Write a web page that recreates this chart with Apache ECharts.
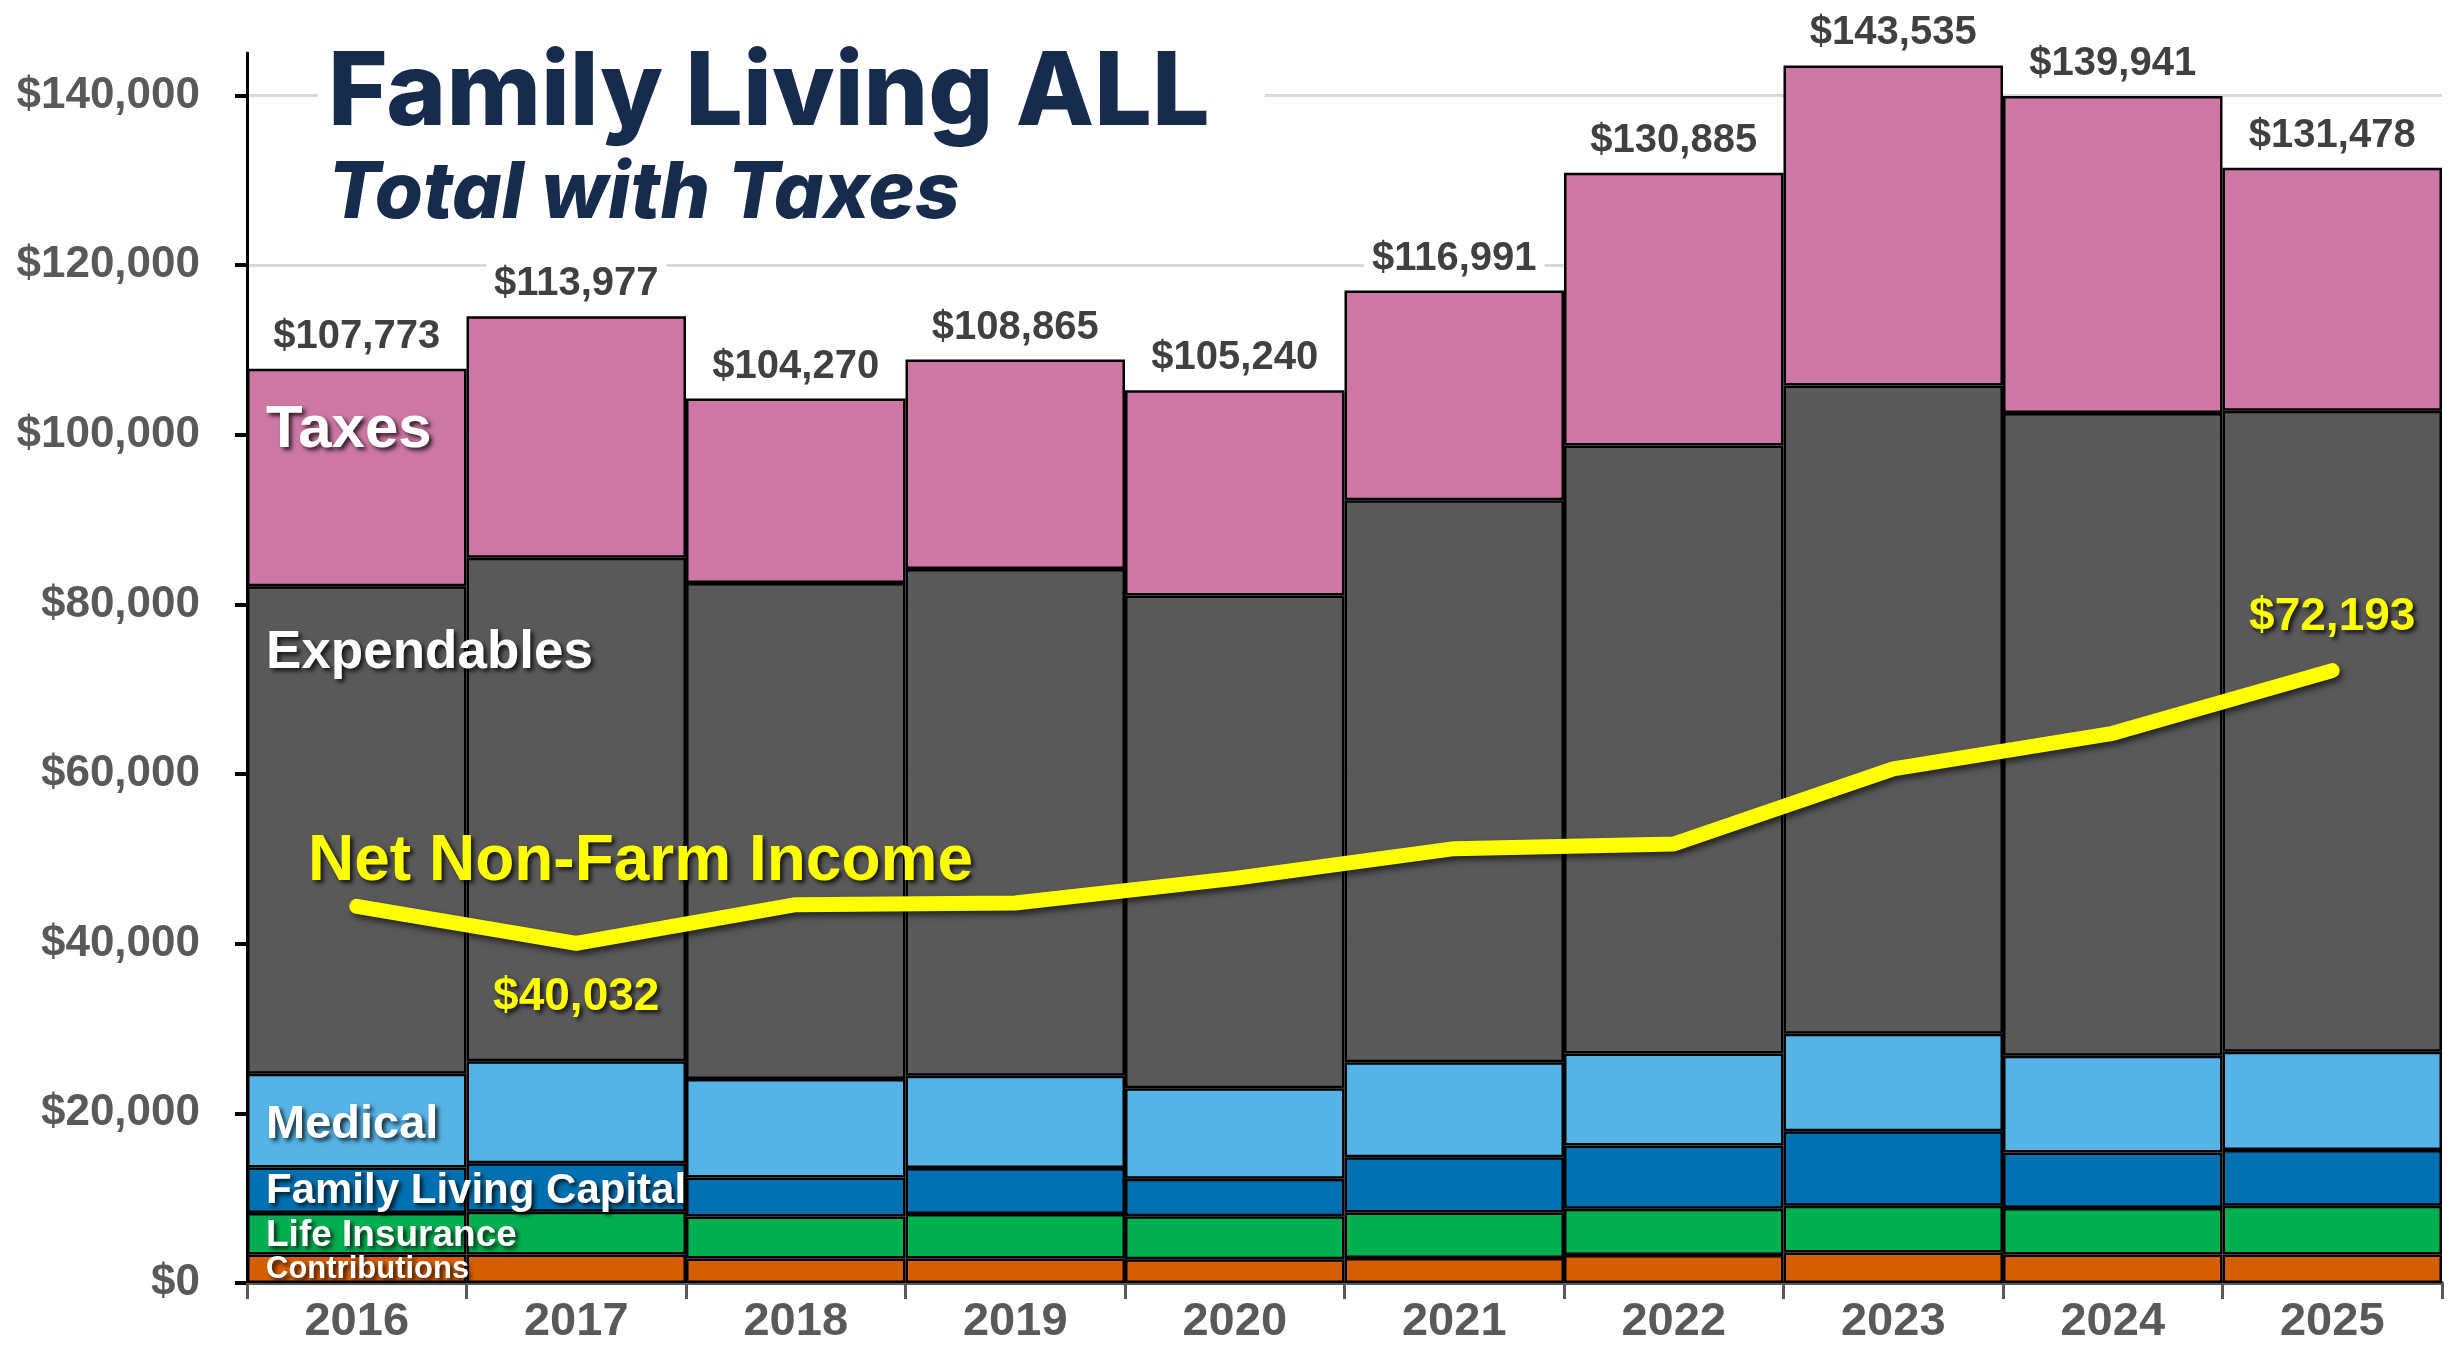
<!DOCTYPE html>
<html>
<head>
<meta charset="utf-8">
<title>Family Living ALL</title>
<script src="https://cdn.jsdelivr.net/npm/echarts@6/dist/echarts.min.js"></script>
<style>
html, body {margin: 0; padding: 0; background: #fff;}
#main {width: 2451px; height: 1351px;}
</style>
</head>
<body>
<div id="main"></div>
<script>
// categories
const years = ['2016', '2017', '2018', '2019', '2020', '2021', '2022', '2023', '2024', '2025'];
// stacked layers, bottom to top ($ per family)
const contributions = [3350, 3350, 2900, 2900, 2800, 2950, 3300, 3600, 3350, 3350];
const lifeInsurance = [4900, 5050, 4950, 5230, 5070, 5350, 5460, 5500, 5500, 5770];
const familyLivingCapital = [5380, 5730, 4600, 5430, 4410, 6510, 7460, 8800, 6520, 6570];
const medical = [11040, 12020, 11600, 10880, 10680, 11200, 10840, 11480, 11430, 11580];
const expendables = [57480, 59340, 58470, 59740, 58100, 66280, 71660, 76410, 75750, 75550];
const totals = [107773, 113977, 104270, 108865, 105240, 116991, 130885, 143535, 139941, 131478];
// taxes = total minus everything below
const taxes = totals.map((t, i) => t - contributions[i] - lifeInsurance[i] - familyLivingCapital[i] - medical[i] - expendables[i]);
// line
const netNonFarmIncome = [44400, 40032, 44600, 44800, 47700, 51200, 51750, 60600, 64800, 72193];
// y axis ticks
const yTicks = [0, 20000, 40000, 60000, 80000, 100000, 120000, 140000];

const numFont = '"Liberation Sans", Arial, sans-serif';

function money(v) {
    return '$' + Math.round(v).toString().replace(/\B(?=(\d{3})+(?!\d))/g, ',');
}

const shadow = {
    textShadowColor: 'rgba(0,0,0,0.75)',
    textShadowBlur: 4,
    textShadowOffsetX: 3,
    textShadowOffsetY: 3
};

function barSeries(name, data, color) {
    return {
        name: name,
        type: 'bar',
        stack: 'total',
        barCategoryGap: '0%',
        data: data,
        itemStyle: {color: color, borderColor: '#000', borderWidth: 2.5},
        emphasis: {disabled: true}
    };
}

// annotation text on the left (acts as legend)
function note(text, x, y, size, color) {
    return {
        type: 'text',
        x: x,
        y: y,
        z: 20,
        style: Object.assign({
            text: text,
            fill: color || '#fff',
            font: 'bold ' + size + 'px ' + numFont,
            verticalAlign: 'middle',
            textVerticalAlign: 'middle',
            shadowColor: 'rgba(0,0,0,0.75)',
            shadowBlur: 4,
            shadowOffsetX: 3,
            shadowOffsetY: 3
        }, shadow)
    };
}

const myChart = echarts.init(document.getElementById('main'));

const taxesSeries = barSeries('Taxes', taxes, '#cd77a5');
taxesSeries.label = {
    show: true,
    position: 'top',
    distance: 10,
    formatter: (p) => money(totals[p.dataIndex]),
    color: '#404040',
    fontFamily: numFont,
    fontWeight: 'bold',
    fontSize: 40,
    backgroundColor: '#fff',
    padding: [2, 8]
};

const options = {
    animation: false,
    backgroundColor: '#fff',
    title: {
        text: 'Family Living ALL',
        subtext: 'Total with Taxes',
        left: 318,
        top: 37,
        padding: [6, 55, 6, 10],
        backgroundColor: '#fff',
        itemGap: 11,
        textStyle: {fontFamily: 'Inter', fontSize: 102, fontWeight: 800, color: '#172b4d'},
        subtextStyle: {fontFamily: 'Inter', fontSize: 78, fontWeight: 800, fontStyle: 'italic', color: '#172b4d'}
    },
    grid: {
        left: 247,
        right: 9,
        top: 53,
        bottom: 68,
        containLabel: false
    },
    xAxis: {
        type: 'category',
        data: years,
        axisLine: {lineStyle: {color: '#595959', width: 4}},
        axisTick: {show: true, length: 16, lineStyle: {color: '#595959', width: 3}},
        axisLabel: {
            margin: 16,
            color: '#595959',
            fontFamily: numFont,
            fontWeight: 'bold',
            fontSize: 47
        }
    },
    yAxis: {
        type: 'value',
        min: 0,
        max: 145000,
        interval: 20000,
        axisLine: {show: true, lineStyle: {color: '#000', width: 3}},
        axisTick: {show: true, length: 12, customValues: yTicks, lineStyle: {color: '#000', width: 4}},
        axisLabel: {
            customValues: yTicks,
            margin: 47,
            formatter: money,
            color: '#595959',
            fontFamily: numFont,
            fontWeight: 'bold',
            fontSize: 44
        },
        splitLine: {show: true, lineStyle: {color: '#d9d9d9', width: 3}}
    },
    series: [
        barSeries('Contributions', contributions, '#d55e00'),
        barSeries('Life Insurance', lifeInsurance, '#00b050'),
        barSeries('Family Living Capital', familyLivingCapital, '#0070b0'),
        barSeries('Medical', medical, '#56b3e6'),
        barSeries('Expendables', expendables, '#595959'),
        taxesSeries,
        {
            name: 'Net Non-Farm Income',
            type: 'line',
            z: 10,
            symbol: 'circle',
            symbolSize: 1,
            itemStyle: {color: '#ffff00'},
            lineStyle: {
                color: '#ffff00',
                width: 15,
                cap: 'round',
                join: 'round',
                shadowColor: 'rgba(0,0,0,0.6)',
                shadowBlur: 6,
                shadowOffsetX: 3,
                shadowOffsetY: 4
            },
            emphasis: {disabled: true},
            data: netNonFarmIncome.map((v, i) => {
                // only the 2017 low and the 2025 value carry a label
                if (i === 1 || i === netNonFarmIncome.length - 1) {
                    return {
                        value: v,
                        label: Object.assign({
                            show: true,
                            position: i === 1 ? 'bottom' : 'top',
                            distance: 30,
                            formatter: (p) => money(p.value),
                            color: '#ffff00',
                            fontFamily: numFont,
                            fontWeight: 'bold',
                            fontSize: 46
                        }, shadow)
                    };
                }
                return v;
            })
        }
    ],
    graphic: [
        note('Taxes', 266, 430, 60),
        note('Expendables', 266, 653, 53),
        note('Medical', 266, 1125, 47),
        note('Family Living Capital', 266, 1191, 42),
        note('Life Insurance', 266, 1236, 37),
        note('Contributions', 266, 1269, 31),
        note('Net Non-Farm Income', 308, 862, 64, '#ffff00')
    ]
};
myChart.setOption(options);
</script>
</body>
</html>
